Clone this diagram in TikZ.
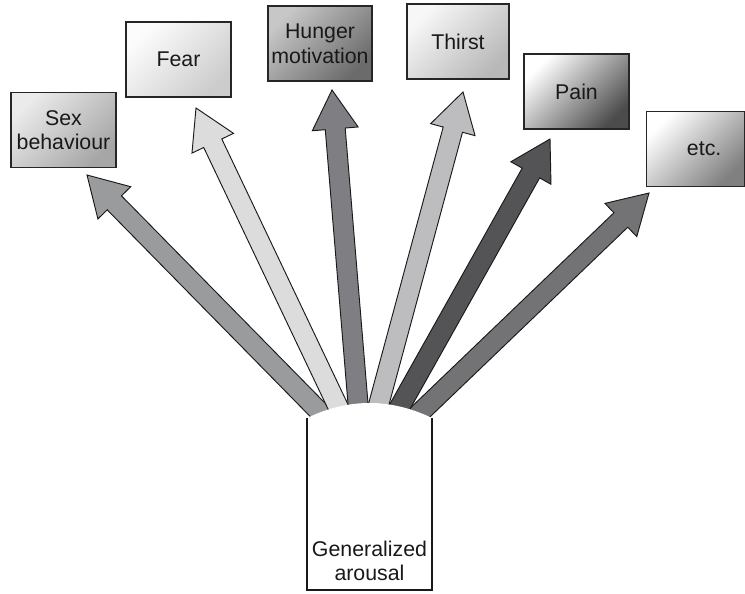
\documentclass[tikz,border=0pt]{standalone}
\usepackage{fontspec}
\setmainfont{Liberation Sans}
\usetikzlibrary{calc}
\tikzset{
  catbox/.style={draw=black!85, line width=0.8pt, inner sep=0pt, align=center,
    minimum width=78.75pt, minimum height=56.25pt, text=black!90,
    font=\fontsize{16}{18.5}\selectfont},
  arrowstyle/.style={draw=black!90, line width=0.7pt, line join=miter},
}
\newcommand\fatarrow[3]{%
  \coordinate (fB) at ($(#1)!-6pt!(#2)$);
  \coordinate (fH) at ($(#2)!29.25pt!(#1)$);
  \filldraw[arrowstyle, fill=#3]
    ($(fB)!7.5pt!90:(#2)$) -- ($(fH)!7.5pt!-90:(fB)$) -- ($(fH)!17.25pt!-90:(fB)$)
    -- (#2) -- ($(fH)!17.25pt!90:(fB)$) -- ($(fH)!7.5pt!90:(fB)$)
    -- ($(fB)!7.5pt!-90:(#2)$) -- cycle;}
\definecolor{aone}{HTML}{9A9B9D}
\definecolor{atwo}{HTML}{DCDCDC}
\definecolor{athree}{HTML}{7F7F83}
\definecolor{afour}{HTML}{BDBDBF}
\definecolor{afive}{HTML}{545456}
\definecolor{asix}{HTML}{737376}
\begin{document}
\begin{tikzpicture}[x=0.75pt,y=-0.75pt]
\useasboundingbox (0,0) rectangle (745,593);
% category boxes
\node[catbox, top color=white!92!black, bottom color=black!35, shading angle=45] (sex) at (63.5,130) {Sex\\behaviour};
\node[catbox, top color=white!99!black, bottom color=black!20, shading angle=45] (fear) at (178.5,59.5) {Fear};
\node[catbox, top color=black!22, bottom color=black!58, shading angle=45, minimum width=78pt] (hunger) at (320,43.5) {Hunger\\motivation};
\node[catbox, top color=white!97!black, bottom color=black!28, shading angle=45, minimum width=76.5pt] (thirst) at (458,41.5) {Thirst};
\node[catbox, top color=white, bottom color=black!70, shading angle=45] (pain) at (576.5,91.5) {Pain};
\node[catbox, top color=white, bottom color=black!50, shading angle=45, minimum width=73pt, text width=73pt] (etc) at (695.5,149) {\hspace*{13pt}etc.};
% arrow ends
\coordinate (b1) at (320,412.2); \coordinate (t1) at (87,175);
\coordinate (b2) at (338,406.7); \coordinate (t2) at (196,108);
\coordinate (b3) at (358,403.5); \coordinate (t3) at (332,90);
\coordinate (b4) at (379,403.3); \coordinate (t4) at (463,92);
\coordinate (b5) at (400,406.4); \coordinate (t5) at (550,139);
\coordinate (b6) at (420,412.6); \coordinate (t6) at (649,193);
\fatarrow{b1}{t1}{aone}
\fatarrow{b6}{t6}{asix}
\fatarrow{b2}{t2}{atwo}
\fatarrow{b5}{t5}{afive}
\fatarrow{b3}{t3}{athree}
\fatarrow{b4}{t4}{afour}
% generalized arousal box
\fill[white] (307,418) .. controls (348.7,398) and (390.3,398) .. (432,418) -- (432,460) -- (307,460) -- cycle;
\draw[line width=1.4pt, black!90] (307,418) -- (307,590) -- (432,590) -- (432,418);
\node[font=\fontsize{16}{18.5}\selectfont, align=center, text=black!90] (arousal) at (369.5,561) {Generalized\\arousal};
\end{tikzpicture}
\end{document}
